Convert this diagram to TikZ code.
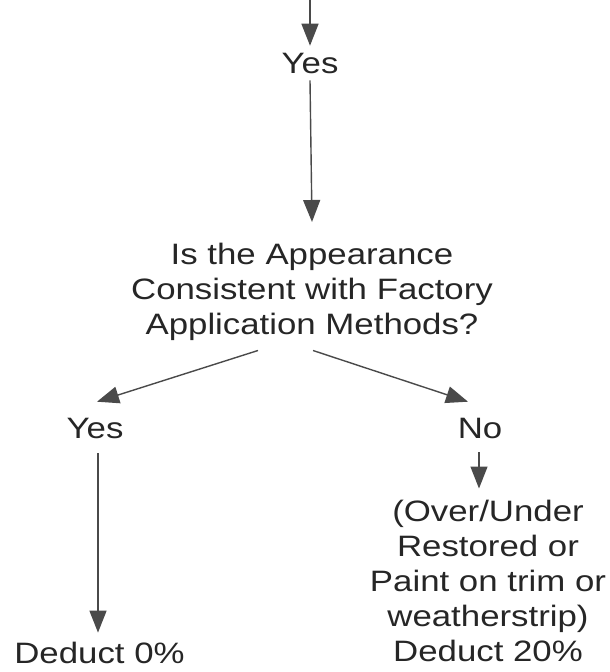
\documentclass[tikz,border=0pt]{standalone}
\usepackage{fontspec}
\setmainfont{Liberation Sans}[FakeStretch=1.18]
\usetikzlibrary{arrows.meta}
\definecolor{ink}{HTML}{262626}
\definecolor{wire}{HTML}{4A4A4A}
\tikzset{
  lbl/.style={inner sep=0pt, outer sep=0pt, text=ink, font=\fontsize{29.5}{35}\selectfont},
  arr/.style={draw=wire, line width=1.4pt, -{Triangle[length=22pt,width=17pt]}},
}
\begin{document}
\begin{tikzpicture}[x=1pt,y=-1pt]
\useasboundingbox (0,0) rectangle (610,672);
\coordinate (in) at (310,-5);
\node[lbl, anchor=base] (yesA) at (310,73) {Yes};
\node[lbl, anchor=north, align=center] (q) at (312,243) {Is the Appearance\\Consistent with Factory\\Application Methods?};
\node[lbl, anchor=base] (yesB) at (95,438) {Yes};
\node[lbl, anchor=base] (no) at (480,438) {No};
\node[lbl, anchor=base] (ded0) at (99.5,663) {Deduct 0\%};
\node[lbl, anchor=north, align=center] (r) at (488,500.5) {(Over/Under\\Restored or\\Paint on trim or\\weatherstrip)\\Deduct 20\%};
\draw[arr] (in) -- ([yshift=7pt]yesA.north);
\draw[arr] ([yshift=-7pt]yesA.south) -- ([yshift=21pt]q.north);
\draw[arr] ([xshift=-54pt,yshift=-10pt]q.south) -- ([xshift=2pt,yshift=16pt]yesB.north);
\draw[arr] ([xshift=1pt,yshift=-10pt]q.south) -- ([xshift=-12pt,yshift=16pt]no.north);
\draw[arr] ([xshift=3pt,yshift=-15pt]yesB.south) -- ([xshift=-1.5pt,yshift=9pt]ded0.north);
\draw[arr] ([xshift=-1pt,yshift=-14pt]no.south) -- ([xshift=-9pt,yshift=12pt]r.north);
\end{tikzpicture}
\end{document}
